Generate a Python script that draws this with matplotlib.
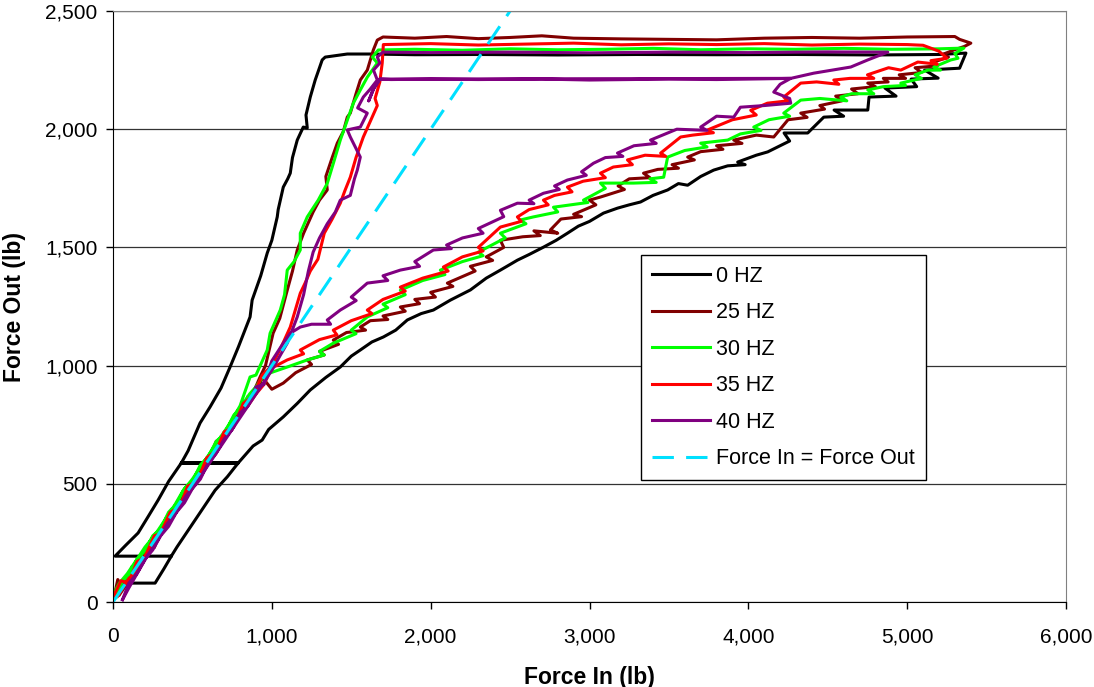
import matplotlib.pyplot as plt
from matplotlib.ticker import FuncFormatter

plt.rcParams['font.family'] = ['Liberation Sans', 'DejaVu Sans']

# 0 HZ run (force in, force out in lb)
hz0_in = [95, 265, 320, 367, 13, 80, 158, 220, 284, 350, 430, 473, 548, 611, 680, 737, 790,
          863, 876, 930, 971, 1000, 1034, 1040, 1072, 1100, 1116, 1130, 1160, 1198, 1223, 1215,
          1242, 1273, 1300, 1317, 1336, 1475, 1620, 1900, 2300, 2800, 3300, 3800, 4300, 4800,
          5200, 5370, 5330, 5110, 5195, 5025, 5060, 4860, 4930, 4760, 4752, 4540, 4600, 4475,
          4374, 4225, 4260, 4122, 4050, 3933, 3980, 3870, 3782, 3700, 3618, 3560, 3492, 3400,
          3321, 3250, 3176, 3088, 3000, 2930, 2861, 2790, 2710, 2620, 2546, 2480, 2439, 2350,
          2250, 2124, 2017, 1940, 1853, 1780, 1702, 1630, 1557, 1500, 1431, 1340, 1242, 1160,
          1072, 980, 939, 882, 788, 430, 788, 720, 643, 580, 517, 460, 403, 367]
hz0_out = [80, 80, 140, 194, 194, 240, 292, 360, 431, 510, 588, 640, 757, 825, 905, 994, 1080,
           1206, 1277, 1380, 1476, 1530, 1629, 1660, 1755, 1790, 1814, 1880, 1954, 2009, 2005, 2060,
           2136, 2208, 2260, 2293, 2305, 2318, 2318, 2315, 2316, 2314, 2316, 2315, 2316, 2314,
           2316, 2322, 2258, 2250, 2216, 2212, 2180, 2174, 2140, 2136, 2081, 2081, 2055, 2051,
           1984, 1984, 1950, 1904, 1890, 1861, 1850, 1845, 1827, 1800, 1763, 1770, 1743, 1720,
           1692, 1680, 1666, 1645, 1610, 1590, 1560, 1530, 1501, 1470, 1446, 1420, 1404, 1370,
           1320, 1277, 1235, 1220, 1193, 1150, 1121, 1100, 1066, 1040, 994, 950, 897, 840,
           783, 730, 685, 660, 588, 588, 588, 530, 473, 410, 347, 290, 233, 194]

# 25 HZ run
hz25_in = [0, 30, 60, 120, 150, 220, 260, 330, 380, 450, 500, 560, 620, 680, 740, 800, 860,
           926, 960, 1008, 1050, 1097, 1130, 1160, 1200, 1260, 1300, 1349, 1340, 1380, 1412,
           1450, 1475, 1494, 1530, 1557, 1601, 1639, 1664, 1700, 1900, 2100, 2300, 2500, 2700,
           2900, 3200, 3500, 3800, 4100, 4400, 4700, 5000, 5300, 5330, 5401, 5360, 5294,
           5230, 5260, 5150, 5190, 5050, 5090, 4950, 4990, 4850, 4880, 4752, 4800, 4650, 4690,
           4550, 4590, 4450, 4480, 4330, 4370, 4250, 4160, 4050, 3908, 3960, 3800, 3840, 3700,
           3618, 3660, 3520, 3560, 3430, 3340, 3380, 3250, 3180, 3220, 3069, 3000, 3040, 2900,
           2950, 2820, 2754, 2800, 2650, 2690, 2580, 2439, 2460, 2350, 2390, 2250, 2280, 2105,
           2140, 2000, 2030, 1900, 1930, 1809, 1840, 1700, 1730, 1620, 1557, 1590, 1470, 1387,
           1420, 1300, 1330, 1223, 1250, 1150, 1072, 1000, 940, 900, 850, 800, 750, 700, 650,
           600, 550, 500, 450, 400, 350, 300, 250, 200, 150, 100, 40]
hz25_out = [0, 95, 60, 150, 130, 240, 230, 345, 360, 450, 480, 560, 610, 700, 730, 810, 850,
            952, 1000, 1137, 1200, 1319, 1400, 1489, 1560, 1650, 1700, 1743, 1800, 1880, 1941,
            1990, 2051, 2068, 2150, 2208, 2250, 2335, 2377, 2390, 2385, 2392, 2383, 2388, 2395,
            2385, 2382, 2380, 2378, 2385, 2388, 2385, 2390, 2392, 2380, 2364, 2350, 2335,
            2318, 2305, 2280, 2268, 2260, 2240, 2230, 2215, 2215, 2200, 2195, 2180, 2170, 2150,
            2140, 2120, 2100, 2085, 2068, 2050, 2040, 1967, 1975, 1954, 1940, 1930, 1915, 1905,
            1882, 1870, 1850, 1835, 1830, 1814, 1795, 1790, 1760, 1745, 1713, 1700, 1680, 1640,
            1630, 1620, 1574, 1560, 1570, 1550, 1545, 1530, 1500, 1460, 1445, 1420, 1400, 1349,
            1335, 1310, 1290, 1280, 1262, 1248, 1230, 1210, 1195, 1190, 1163, 1150, 1140, 1108,
            1090, 1060, 1045, 1024, 1005, 970, 926, 900, 950, 880, 870, 790, 770, 690, 680,
            600, 570, 490, 470, 400, 370, 290, 275, 195, 170, 90, 30]

# 30 HZ run
hz30_in = [0, 40, 90, 150, 202, 260, 320, 380, 440, 500, 560, 620, 680, 740, 800, 863, 900,
           971, 989, 1053, 1080, 1097, 1140, 1179, 1179, 1223, 1292, 1349, 1387, 1431, 1513,
           1557, 1601, 1664, 1633, 1670, 1900, 2200, 2500, 2800, 3100, 3400, 3700, 4000, 4300,
           4600, 4900, 5200, 5357, 5300, 5320, 5275, 5168, 5210, 5130, 5050, 5090, 4960, 4990,
           4850, 4752, 4790, 4650, 4582, 4620, 4450, 4330, 4223, 4260, 4130, 4034, 4080, 3950,
           3870, 3700, 3740, 3600, 3492, 3467, 3380, 3420, 3277, 3069, 3100, 2962, 2990, 2773,
           2800, 2647, 2565, 2600, 2439, 2470, 2300, 2330, 2200, 2061, 2090, 1950, 1809, 1840,
           1700, 1730, 1601, 1500, 1530, 1387, 1300, 1330, 1223, 1097, 950, 900, 860, 800, 760,
           700, 650, 600, 550, 500, 450, 400, 350, 300, 250, 200, 150, 100, 60, 20]
hz30_out = [30, 80, 120, 180, 233, 280, 340, 400, 470, 520, 580, 640, 700, 760, 830, 952, 960,
            1066, 1137, 1235, 1300, 1404, 1440, 1489, 1560, 1629, 1700, 1771, 1855, 1954, 2110,
            2166, 2220, 2280, 2305, 2335, 2338, 2334, 2340, 2336, 2338, 2342, 2336, 2340, 2338,
            2342, 2338, 2340, 2343, 2320, 2300, 2293, 2263, 2250, 2250, 2230, 2215, 2195, 2185,
            2180, 2166, 2150, 2150, 2136, 2120, 2130, 2123, 2068, 2055, 2040, 2009, 1995, 1980,
            1954, 1941, 1925, 1910, 1882, 1797, 1790, 1775, 1772, 1772, 1750, 1700, 1690, 1670,
            1650, 1629, 1616, 1600, 1560, 1540, 1480, 1465, 1440, 1404, 1385, 1360, 1319, 1300,
            1260, 1245, 1206, 1150, 1135, 1095, 1060, 1045, 1024, 994, 960, 910, 880, 820, 790,
            710, 680, 615, 580, 510, 480, 415, 380, 310, 280, 215, 180, 110, 90, 20]

# 35 HZ run
hz35_in = [0, 50, 100, 150, 200, 260, 300, 360, 420, 470, 530, 590, 650, 700, 760, 820, 880,
           940, 1000, 1060, 1116, 1150, 1179, 1210, 1242, 1290, 1330, 1380, 1431, 1460, 1494,
           1530, 1576, 1664, 1650, 1680, 1695, 1702, 2000, 2300, 2600, 2900, 3200, 3500, 3800,
           4100, 4400, 4700, 5000, 5100, 5200, 5250, 5150, 5190, 5067, 4960, 4883, 4750, 4790,
           4640, 4538, 4570, 4430, 4330, 4223, 4250, 4120, 4015, 4050, 3900, 3744, 3780, 3650,
           3574, 3448, 3480, 3350, 3239, 3270, 3150, 3069, 3100, 2960, 2861, 2890, 2780, 2710,
           2740, 2620, 2546, 2570, 2439, 2300, 2330, 2200, 2080, 2110, 1950, 1809, 1840, 1700,
           1601, 1630, 1500, 1387, 1410, 1300, 1179, 1200, 1097, 1000, 950, 900, 850, 800, 750,
           700, 650, 600, 550, 500, 450, 400, 350, 300, 250, 200, 150, 100, 30]
hz35_out = [20, 90, 80, 170, 190, 280, 290, 380, 400, 490, 510, 610, 640, 720, 740, 840, 870,
            960, 1000, 1080, 1163, 1240, 1306, 1350, 1400, 1450, 1560, 1620, 1687, 1740, 1797,
            1880, 1967, 2100, 2130, 2200, 2280, 2358, 2362, 2356, 2360, 2364, 2357, 2361, 2358,
            2362, 2356, 2360, 2358, 2355, 2330, 2300, 2290, 2275, 2284, 2250, 2260, 2230, 2215,
            2215, 2208, 2190, 2200, 2195, 2136, 2120, 2110, 2080, 2060, 2040, 1997, 1985, 1975,
            1967, 1899, 1885, 1890, 1870, 1850, 1840, 1814, 1795, 1780, 1755, 1735, 1720, 1700,
            1680, 1660, 1629, 1610, 1586, 1500, 1485, 1460, 1417, 1400, 1370, 1332, 1315, 1280,
            1235, 1220, 1190, 1150, 1130, 1110, 1066, 1050, 1024, 990, 920, 880, 830, 790, 730,
            700, 630, 590, 540, 500, 430, 390, 340, 300, 230, 190, 130, 100, 25]

# 40 HZ run
hz40_in = [60, 100, 160, 220, 280, 340, 400, 460, 520, 580, 640, 700, 760, 820, 880, 940, 1000,
           1050, 1097, 1160, 1200, 1230, 1260, 1300, 1349, 1400, 1431, 1494, 1520, 1538, 1557,
           1494, 1475, 1557, 1601, 1540, 1576, 1620, 1664, 1640, 1680, 1664, 1700, 2000, 2500,
           3000, 3500, 4000, 4500, 4878, 4752, 4645, 4412, 4267, 4100, 3800, 3500, 3000, 2700,
           2300, 2000, 1750, 1680, 1640, 1610, 1640, 1680, 4267, 4200, 4160, 4260, 4267, 4100,
           3950, 3908, 3800, 3700, 3740, 3550, 3384, 3420, 3280, 3176, 3210, 3100, 3025, 2950,
           2980, 2861, 2780, 2810, 2710, 2620, 2650, 2546, 2439, 2460, 2300, 2330, 2200, 2100,
           2130, 2017, 1900, 1930, 1809, 1700, 1730, 1601, 1500, 1531, 1431, 1349, 1370, 1250,
           1179, 1116, 1072, 1000, 950, 900, 850, 800, 750, 700, 650, 600, 550, 500, 450, 400,
           350, 300, 250, 200, 150, 100, 60]
hz40_out = [10, 60, 130, 200, 260, 330, 380, 450, 500, 560, 620, 680, 740, 800, 860, 920, 980,
            1040, 1095, 1206, 1300, 1400, 1480, 1540, 1600, 1650, 1700, 1720, 1790, 1827, 1882,
            1967, 1997, 2009, 2068, 2090, 2136, 2170, 2208, 2250, 2280, 2305, 2326, 2324, 2326,
            2323, 2326, 2324, 2327, 2326, 2293, 2263, 2237, 2215, 2213, 2210, 2212, 2208, 2212,
            2210, 2212, 2210, 2212, 2170, 2120, 2170, 2212, 2215, 2190, 2157, 2130, 2110, 2100,
            2093, 2051, 2055, 2009, 1995, 2000, 1954, 1940, 1930, 1899, 1885, 1880, 1856, 1820,
            1805, 1785, 1760, 1745, 1729, 1700, 1685, 1687, 1657, 1630, 1580, 1560, 1540, 1510,
            1495, 1489, 1440, 1420, 1404, 1380, 1360, 1349, 1290, 1275, 1235, 1193, 1175, 1175,
            1163, 1137, 1095, 1020, 920, 910, 830, 800, 730, 690, 630, 590, 520, 480, 420, 380,
            320, 280, 220, 180, 120, 80, 10]

# reference line where force in equals force out
equal_in = [0, 2500]
equal_out = [0, 2500]

fig = plt.figure(figsize=(10.94, 6.87), dpi=100)
ax = fig.add_axes([0.1033, 0.1237, 0.8711, 0.8603])

lw = 2.2
ax.plot(hz0_in, hz0_out, color='black', lw=lw, label='0 HZ')
ax.plot(hz25_in, hz25_out, color='#800000', lw=lw, label='25 HZ')
ax.plot(hz30_in, hz30_out, color='#00FF00', lw=lw, label='30 HZ')
ax.plot(hz35_in, hz35_out, color='#FF0000', lw=lw, label='35 HZ')
ax.plot(hz40_in, hz40_out, color='#800080', lw=lw, label='40 HZ')
ax.plot(equal_in, equal_out, color='#00E0FF', lw=lw, dashes=(7, 4),
        label='Force In = Force Out')

ax.set_xlim(0, 6000)
ax.set_ylim(0, 2500)
ax.set_xticks(range(0, 6001, 1000))
ax.set_yticks(range(0, 2501, 500))
fmt = FuncFormatter(lambda v, p: '{:,.0f}'.format(v))
ax.xaxis.set_major_formatter(fmt)
ax.yaxis.set_major_formatter(fmt)
ax.tick_params(axis='both', direction='out', length=5, width=1, labelsize=15, color='black')
ax.tick_params(axis='x', pad=13)
ax.tick_params(axis='y', pad=6)

ax.yaxis.grid(True, color='#333333', lw=0.9)
ax.set_axisbelow(True)
for side in ['top', 'right']:
    ax.spines[side].set_color('#808080')
for side in ['left', 'bottom']:
    ax.spines[side].set_color('black')

ax.set_xlabel('Force In (lb)', fontsize=16.5, fontweight='bold')
ax.set_ylabel('Force Out (lb)', fontsize=16.5, fontweight='bold')
ax.xaxis.set_label_coords(0.5, -0.108)
ax.yaxis.set_label_coords(-0.091, 0.5)

leg = ax.legend(loc='upper left', bbox_to_anchor=(0.554, 0.587), borderaxespad=0,
                fontsize=15.5, frameon=True, fancybox=False, framealpha=1,
                edgecolor='black', handlelength=2.7, handletextpad=0.3,
                labelspacing=0.72, borderpad=0.5)
leg.get_frame().set_linewidth(1)

plt.savefig('out.png', dpi=100)
